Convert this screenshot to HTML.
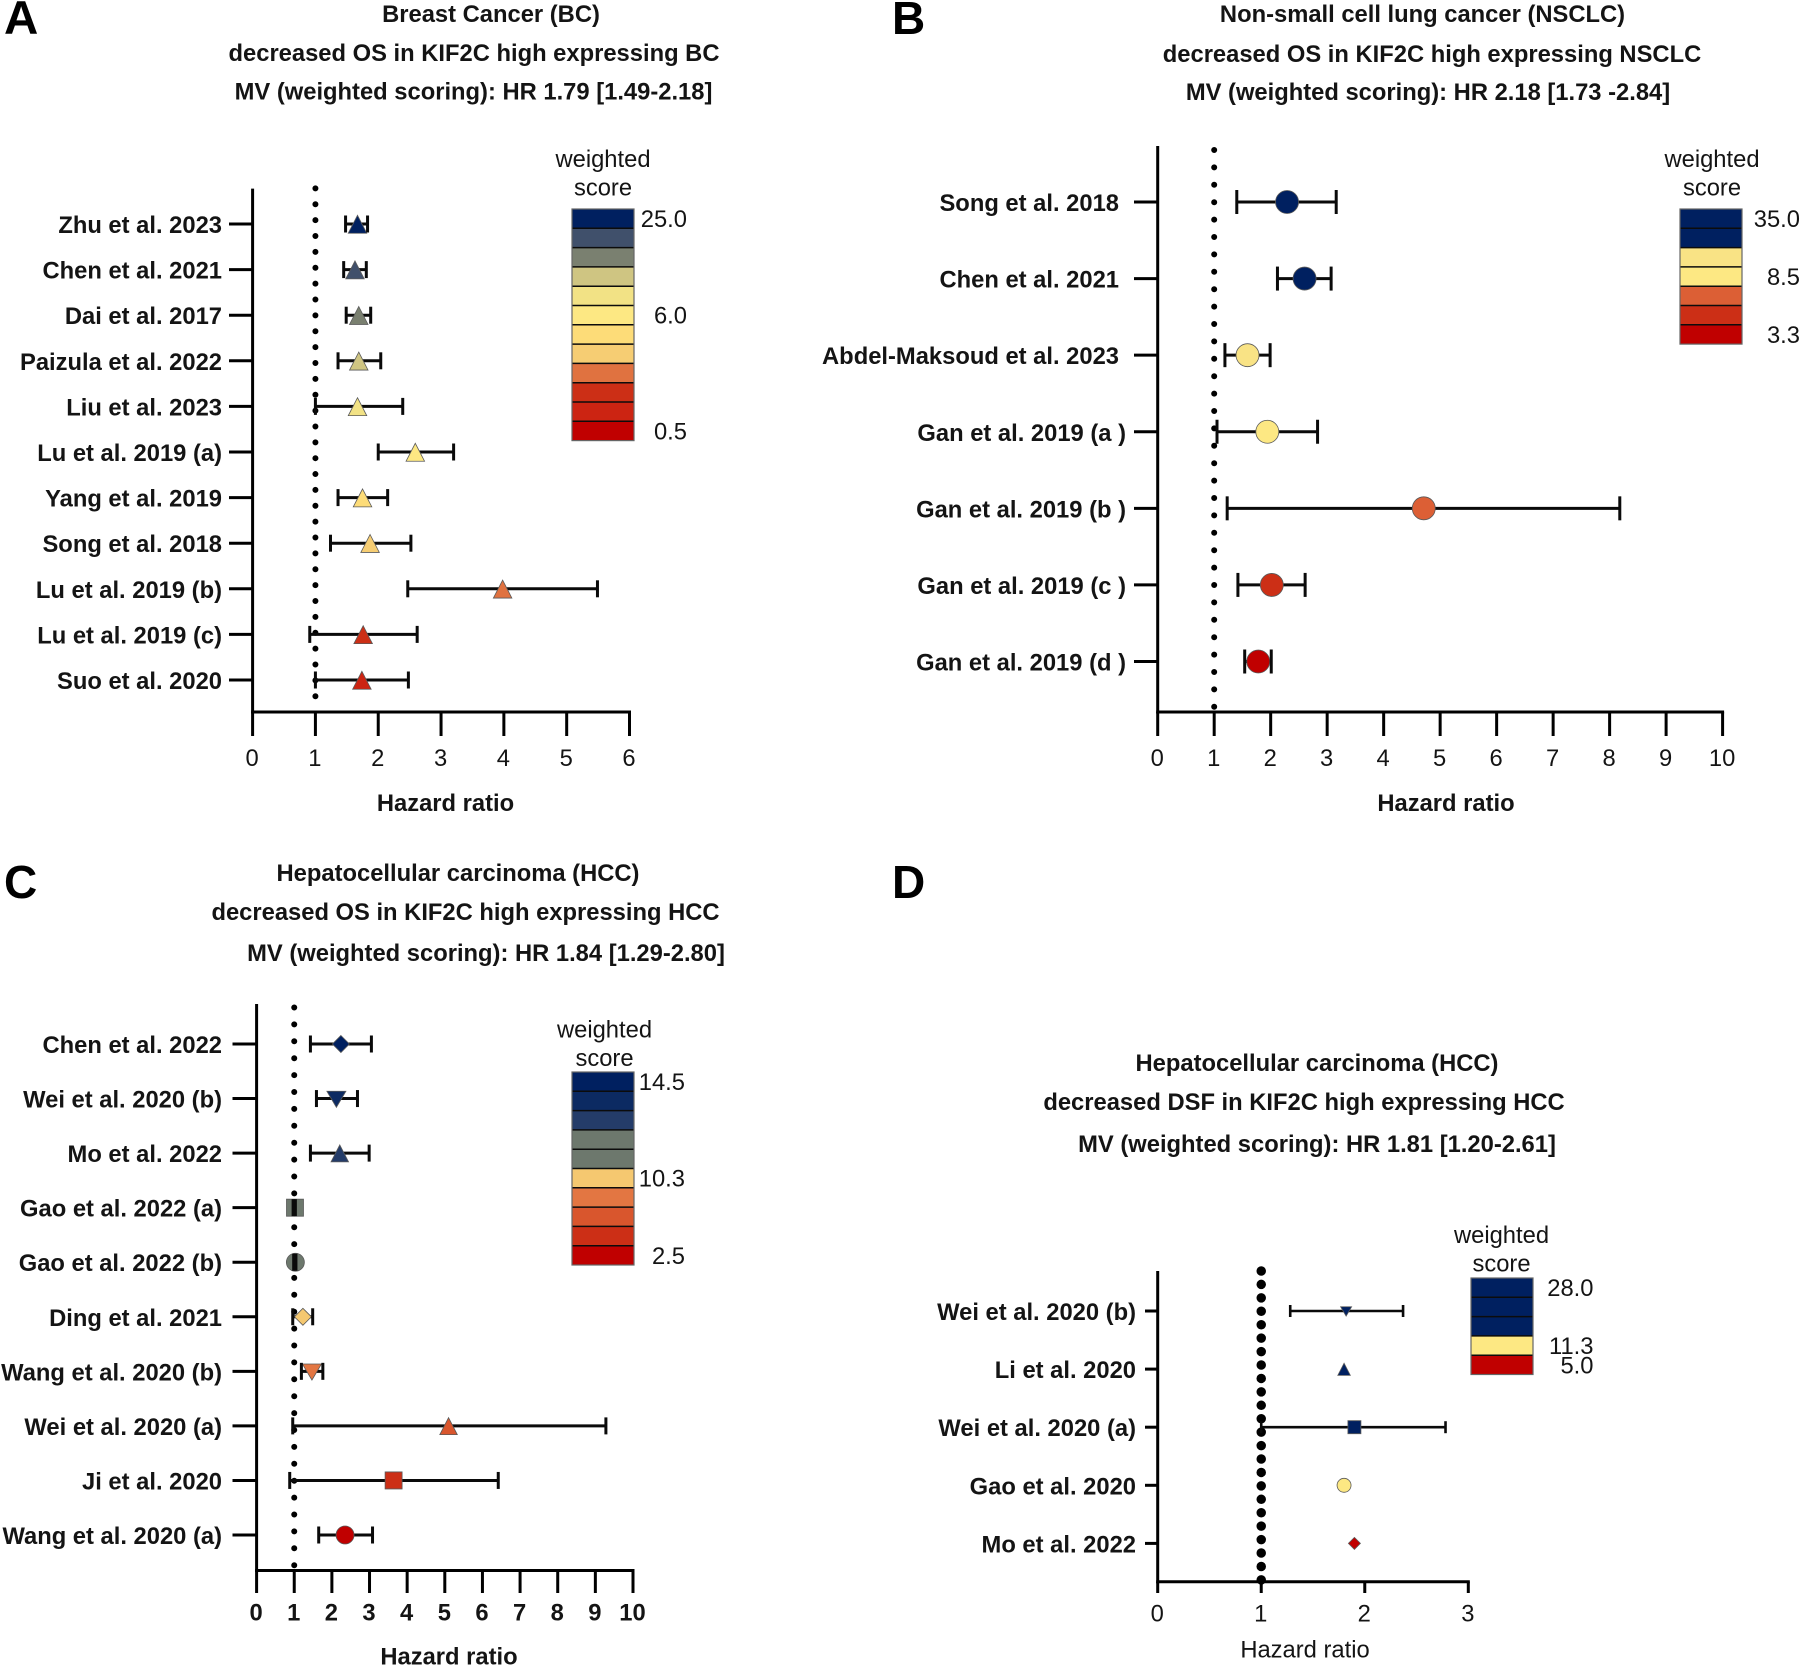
<!DOCTYPE html>
<html lang="en">
<head>
<meta charset="utf-8">
<title>KIF2C hazard ratio forest plots</title>
<style>
  html, body { margin: 0; padding: 0; background: #fff; }
  svg { display: block; }
  text { font-family: "Liberation Sans", Arial, sans-serif; font-size: 23.75px; fill: #141414; }
  .b { font-weight: 700; }
  .letter { font-size: 46px; font-weight: 700; fill: #000; }
  .t { font-weight: 700; text-anchor: middle; }
  .c { text-anchor: middle; }
</style>
</head>
<body>
<svg id="figure" xmlns="http://www.w3.org/2000/svg" width="1800" height="1666" viewBox="0 0 1800 1666">
  <rect width="1800" height="1666" fill="#fff"/>

  <text class="letter" x="4" y="34" style="font-size:47.5px">A</text>
  <text class="letter" x="892" y="34">B</text>
  <text class="letter" x="4" y="898">C</text>
  <text class="letter" x="892" y="898">D</text>

  <text class="t" x="491" y="22">Breast Cancer (BC)</text>
  <text class="t" x="474" y="61">decreased OS in KIF2C high expressing BC</text>
  <text class="t" x="473.5" y="99.5">MV (weighted scoring): HR 1.79 [1.49-2.18]</text>

  <text class="t" x="1422.5" y="22">Non-small cell lung cancer (NSCLC)</text>
  <text class="t" x="1432" y="62">decreased OS in KIF2C high expressing NSCLC</text>
  <text class="t" x="1428" y="100">MV (weighted scoring): HR 2.18 [1.73 -2.84]</text>

  <text class="t" x="458" y="881">Hepatocellular carcinoma (HCC)</text>
  <text class="t" x="465.5" y="920">decreased OS in KIF2C high expressing HCC</text>
  <text class="t" x="486" y="961">MV (weighted scoring): HR 1.84 [1.29-2.80]</text>

  <text class="t" x="1317" y="1071">Hepatocellular carcinoma (HCC)</text>
  <text class="t" x="1304" y="1110">decreased DSF in KIF2C high expressing HCC</text>
  <text class="t" x="1317" y="1152">MV (weighted scoring): HR 1.81 [1.20-2.61]</text>
</svg>

<script>
// Panel A data
const labelsA = ["Zhu et al. 2023","Chen et al. 2021","Dai et al. 2017","Paizula et al. 2022","Liu et al. 2023","Lu et al. 2019 (a)","Yang et al. 2019","Song et al. 2018","Lu et al. 2019 (b)","Lu et al. 2019 (c)","Suo et al. 2020"];
const hrA   = [1.67,1.63,1.69,1.69,1.67,2.59,1.75,1.87,3.98,1.76,1.74];
const lowA  = [1.48,1.45,1.49,1.36,1.00,2.00,1.36,1.24,2.47,0.91,1.00];
const highA = [1.83,1.81,1.88,2.04,2.39,3.20,2.15,2.52,5.49,2.62,2.48];
const shapesA = ["up","up","up","up","up","up","up","up","up","up","up"];
const colorsA = ["#002060","#40506b","#7a8070","#cfc582","#f2e285","#fde883","#fddc78","#f6cd73","#e07240","#cc2f16","#cc2412"];
const legendA = ["#002060","#40506b","#7a8070","#cfc582","#f2e285","#fde883","#fddc78","#f6cd73","#e07240","#cc2f16","#cc2412","#c00000"];
const legendTicksA = ["25.0","6.0","0.5"];
const legendTickCellsA = [0,5,11];
const xTicksA = [0,1,2,3,4,5,6];

// Panel B data
const labelsB = ["Song et al. 2018","Chen et al. 2021","Abdel-Maksoud et al. 2023","Gan et al. 2019 (a )","Gan et al. 2019 (b )","Gan et al. 2019 (c )","Gan et al. 2019 (d )"];
const hrB   = [2.29,2.60,1.59,1.94,4.71,2.02,1.78];
const lowB  = [1.40,2.12,1.19,1.05,1.23,1.42,1.54];
const highB = [3.16,3.07,1.99,2.83,8.18,2.61,2.01];
const shapesB = ["circle","circle","circle","circle","circle","circle","circle"];
const colorsB = ["#002060","#002060","#f9e385","#fde883","#dc5f35","#cc2f16","#c00000"];
const legendB = ["#002060","#002060","#f9e385","#fde883","#dc5f35","#cc2f16","#c00000"];
const legendTicksB = ["35.0","8.5","3.3"];
const legendTickCellsB = [0,3,6];
const xTicksB = [0,1,2,3,4,5,6,7,8,9,10];

// Panel C data
const labelsC = ["Chen et al. 2022","Wei et al. 2020 (b)","Mo et al. 2022","Gao et al. 2022 (a)","Gao et al. 2022 (b)","Ding et al. 2021","Wang et al. 2020 (b)","Wei et al. 2020 (a)","Ji et al. 2020","Wang et al. 2020 (a)"];
const hrC   = [2.24,2.12,2.21,1.02,1.03,1.23,1.47,5.10,3.64,2.35];
const lowC  = [1.43,1.59,1.43,0.97,0.985,0.96,1.19,0.96,0.88,1.65];
const highC = [3.05,2.68,2.99,1.03,1.045,1.49,1.76,9.28,6.42,3.08];
const shapesC = ["diamond","down","up","square","circle","diamond","down","up","square","circle"];
const colorsC = ["#002060","#0c2a62","#243c69","#6d786d","#6d786d","#f5c870","#e37642","#d9562d","#cc2f16","#c00000"];
const legendC = ["#002060","#0c2a62","#243c69","#6d786d","#6d786d","#f5c870","#e37642","#d9562d","#cc2f16","#c00000"];
const legendTicksC = ["14.5","10.3","2.5"];
const legendTickCellsC = [0,5,9];
const xTicksC = [0,1,2,3,4,5,6,7,8,9,10];

// Panel D data
const labelsD = ["Wei et al. 2020 (b)","Li et al. 2020","Wei et al. 2020 (a)","Gao et al. 2020","Mo et al. 2022"];
const hrD   = [1.82,1.80,1.90,1.80,1.90];
const lowD  = [1.28,null,1.00,null,null];
const highD = [2.37,null,2.78,null,null];
const shapesD = ["down","up","square","circle","diamond"];
const colorsD = ["#002060","#002060","#002060","#fde883","#c00000"];
const legendD = ["#002060","#002060","#002060","#fde883","#c00000"];
const legendTicksD = ["28.0","11.3","5.0"];
const legendTickCellsD = [0,3,4];
const xTicksD = [0,1,2,3];

const panels = [
  { id:"a", labels:labelsA, hr:hrA, low:lowA, high:highA, shapes:shapesA, colors:colorsA, legend:legendA, legendTicks:legendTicksA, legendCells:legendTickCellsA, ticks:xTicksA,
    x0:252.6, x1:629.5, top:188.6, bottom:712, tickEnd:736, row0:224, rowN:680,
    labelRight:222, labelRightParen:222, yTickLeft:229, tickBaseline:766, tickBold:false,
    axisTitle:[445.5,811], axisTitleBold:true, dotGap:15.87, dotW:6, dotTop:188.4, dotBottom:697,
    capH:17, ciW:3, sizes:{up:18.5}, circleSize:17,
    legendX:572, legendY:209, legendRight:687, legendCx:603, legendCx2:603, legendB1:167, legendB2:195.5 },
  { id:"b", labels:labelsB, hr:hrB, low:lowB, high:highB, shapes:shapesB, colors:colorsB, legend:legendB, legendTicks:legendTicksB, legendCells:legendTickCellsB, ticks:xTicksB,
    x0:1157.7, x1:1722.6, top:146, bottom:712, tickEnd:736, row0:202, rowN:661.5,
    labelRight:1119, labelRightParen:1126, yTickLeft:1134, tickBaseline:766, tickBold:false,
    axisTitle:[1446,811], axisTitleBold:true, dotGap:17.4, dotW:6, dotTop:150, dotBottom:708,
    capH:24, ciW:3, sizes:{}, circleSize:23,
    legendX:1680, legendY:209, legendRight:1800, legendCx:1712, legendCx2:1712, legendB1:167, legendB2:195.5 },
  { id:"c", labels:labelsC, hr:hrC, low:lowC, high:highC, shapes:shapesC, colors:colorsC, legend:legendC, legendTicks:legendTicksC, legendCells:legendTickCellsC, ticks:xTicksC,
    x0:256.6, x1:633, top:1004, bottom:1570.5, tickEnd:1593, row0:1044, rowN:1535,
    labelRight:222, labelRightParen:222, yTickLeft:232.5, tickBaseline:1620.5, tickBold:true,
    axisTitle:[449,1664.5], axisTitleBold:true, dotGap:16.9, dotW:6, dotTop:1007.5, dotBottom:1566,
    capH:17, ciW:3, sizes:{up:17.5,down:19,square:17,diamond:17}, circleSize:18,
    legendX:572, legendY:1072, legendRight:685, legendCx:604.5, legendCx2:604.5, legendB1:1037.5, legendB2:1066 },
  { id:"d", labels:labelsD, hr:hrD, low:lowD, high:highD, shapes:shapesD, colors:colorsD, legend:legendD, legendTicks:legendTicksD, legendCells:legendTickCellsD, ticks:xTicksD,
    x0:1157.7, x1:1468.3, top:1271, bottom:1581.7, tickEnd:1593, row0:1311, rowN:1543.4,
    labelRight:1136, labelRightParen:1136, yTickLeft:1145, tickBaseline:1621.5, tickBold:false,
    axisTitle:[1305,1657.5], axisTitleBold:false, dotGap:13.43, dotW:9.5, dotTop:1271, dotBottom:1581,
    capH:12, ciW:2.6, sizes:{up:12.5,down:11,square:13,diamond:12}, circleSize:14,
    legendX:1471, legendY:1278, legendRight:1593.5, legendCx:1501.5, legendCx2:1501.5, legendB1:1243, legendB2:1271.5 }
];

const SVG_NS = "http://www.w3.org/2000/svg";
const figure = document.getElementById("figure");

function node(parent, tag, attrs, content) {
  const el = document.createElementNS(SVG_NS, tag);
  for (const k in attrs) el.setAttribute(k, attrs[k]);
  if (content !== undefined) el.textContent = content;
  parent.appendChild(el);
  return el;
}

function markerPoints(shape, cx, cy, s) {
  const h = s / 2;
  if (shape === "up") {
    return [[cx, cy - h * 0.94], [cx + h, cy + h], [cx - h, cy + h]];
  }
  if (shape === "down") {
    return [[cx - h, cy - h * 0.77], [cx + h, cy - h * 0.77], [cx, cy + h * 0.92]];
  }
  if (shape === "diamond") {
    return [[cx, cy - h], [cx + h, cy], [cx, cy + h], [cx - h, cy]];
  }
  return [[cx - h, cy - h], [cx + h, cy - h], [cx + h, cy + h], [cx - h, cy + h]];
}

function drawMarker(parent, p, i, cx, cy) {
  const shape = p.shapes[i];
  const style = { fill: p.colors[i], stroke: "#5a5a5a", "stroke-width": 0.8 };
  let el;
  if (shape === "circle") {
    el = node(parent, "circle", Object.assign({ cx: cx, cy: cy, r: p.circleSize / 2 }, style));
  } else {
    const pts = markerPoints(shape, cx, cy, p.sizes[shape]).map(function (q) { return q[0].toFixed(2) + "," + q[1].toFixed(2); }).join(" ");
    el = node(parent, "polygon", Object.assign({ points: pts }, style));
  }
  
  
}

function drawPanel(p) {
  const xScale = function (v) {
    const max = p.ticks[p.ticks.length - 1];
    return p.x0 + (v / max) * (p.x1 - p.x0);
  };
  const yScale = function (i) {
    return p.row0 + i * (p.rowN - p.row0) / (p.labels.length - 1);
  };

  const g = node(figure, "g", {});
  
  

  // Reference line at HR = 1
  const ref = node(g, "line", { x1: xScale(1), x2: xScale(1), y1: p.dotTop, y2: p.dotBottom, stroke: "#000", "stroke-width": p.dotW, "stroke-linecap": "round", "stroke-dasharray": "0 " + p.dotGap });
  
  

  // Axes
  const yAxis = node(g, "line", { x1: p.x0, x2: p.x0, y1: p.top, y2: p.bottom + 1.5, stroke: "#000", "stroke-width": 3 });
  
  
  const xAxis = node(g, "line", { x1: p.x0 - 1.5, x2: p.x1 + 1.5, y1: p.bottom, y2: p.bottom, stroke: "#000", "stroke-width": 3 });
  
  

  p.ticks.forEach(function (t) {
    const tick = node(g, "line", { x1: xScale(t), x2: xScale(t), y1: p.bottom, y2: p.tickEnd, stroke: "#000", "stroke-width": 3 });
    
    
    const lab = node(g, "text", { x: xScale(t) - 0.5, y: p.tickBaseline, class: "c" + (p.tickBold ? " b" : "") }, String(t));
    
    
  });

  const axisTitle = node(g, "text", { x: p.axisTitle[0], y: p.axisTitle[1], class: "c" + (p.axisTitleBold ? " b" : "") }, "Hazard ratio");
  
  

  // Rows
  p.labels.forEach(function (name, i) {
    const y = yScale(i);
    const rowTick = node(g, "line", { x1: p.yTickLeft, x2: p.x0, y1: y, y2: y, stroke: "#000", "stroke-width": 3 });
    
    
    const right = name.endsWith(" )") ? p.labelRightParen : p.labelRight;
    const label = node(g, "text", { x: right, y: y + 9, class: "b", "text-anchor": "end" }, name);
    
    

    const lo = p.low[i], hi = p.high[i];
    if (lo !== null && hi !== null) {
      const ci = node(g, "line", { x1: xScale(lo), x2: xScale(hi), y1: y, y2: y, stroke: "#0a0a0a", "stroke-width": p.ciW });
      
      
    }
    drawMarker(g, p, i, xScale(p.hr[i]), y);
    if (lo !== null && hi !== null) {
      [lo, hi].forEach(function (v) {
        const cap = node(g, "line", { x1: xScale(v), x2: xScale(v), y1: y - p.capH / 2, y2: y + p.capH / 2, stroke: "#0a0a0a", "stroke-width": p.ciW });
        
        
      });
    }
  });

  // Legend
  const cellH = 19.3, cellW = 62;
  const title1 = node(g, "text", { x: p.legendCx, y: p.legendB1, class: "c" }, "weighted");
  
  
  const title2 = node(g, "text", { x: p.legendCx2, y: p.legendB2, class: "c" }, "score");
  
  
  p.legend.forEach(function (color, i) {
    const cell = node(g, "rect", { x: p.legendX, y: p.legendY + i * cellH, width: cellW, height: cellH, fill: color });
    
    
  });
  p.legend.forEach(function (color, i) {
    if (i === 0) return;
    const sep = node(g, "line", { x1: p.legendX, x2: p.legendX + cellW, y1: p.legendY + i * cellH, y2: p.legendY + i * cellH, stroke: "#0c0c0c", "stroke-width": 1.5 });
    
    
  });
  const frame = node(g, "rect", { x: p.legendX, y: p.legendY, width: cellW, height: cellH * p.legend.length, fill: "none", stroke: "#666", "stroke-width": 1.2 });
  
  
  p.legendTicks.forEach(function (t, i) {
    const y = p.legendY + (p.legendCells[i] + 0.5) * cellH + 8.5;
    const lt = node(g, "text", { x: p.legendRight, y: y, "text-anchor": "end" }, t);
    
    
  });
}

panels.forEach(drawPanel);
</script>
</body>
</html>
